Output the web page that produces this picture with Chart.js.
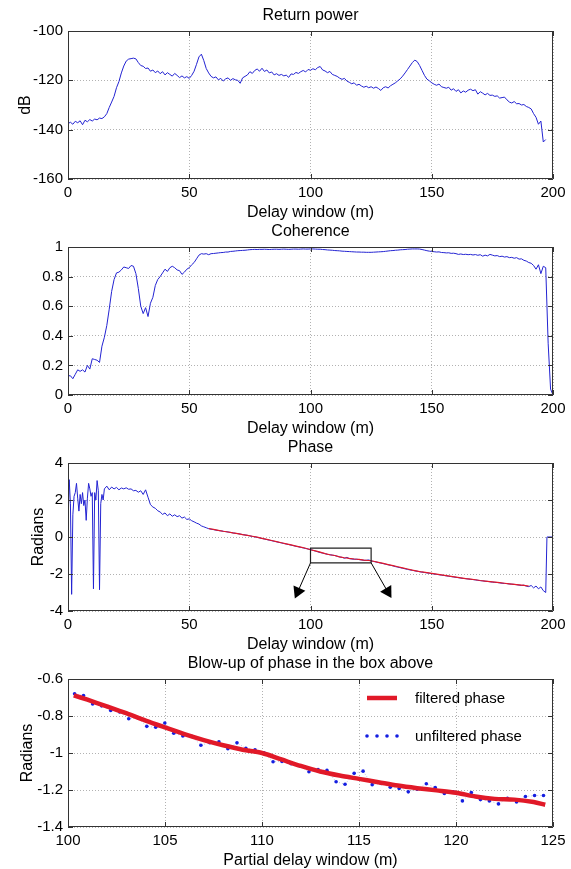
<!DOCTYPE html>
<html>
<head>
<meta charset="utf-8">
<script src="https://cdn.jsdelivr.net/npm/chart.js@4.4.0/dist/chart.umd.min.js"></script>
<style>
  html, body { margin: 0; padding: 0; background: #fff; width: 571px; height: 869px; overflow: hidden; }
  canvas { position: absolute; left: 0; }
</style>
</head>
<body>
<canvas id="powerChart" width="571" height="240" style="top:0px"></canvas>
<canvas id="coherenceChart" width="571" height="240" style="top:216px"></canvas>
<canvas id="phaseChart" width="571" height="240" style="top:432px"></canvas>
<canvas id="blowupChart" width="571" height="240" style="top:648px"></canvas>
<script>
// return power (dB), one value per metre from 0 m
const powerDb = [
  -137.5, -137.0, -137.8, -136.6, -137.2, -136.4, -138.0, -136.2, -136.8, -135.9,
  -136.5, -135.7, -136.0, -135.3, -135.5, -134.8, -133.5, -131.0, -128.8, -126.5,
  -123.0, -120.5, -117.0, -114.2, -112.2, -111.4, -111.2, -111.0, -111.3, -112.8,
  -114.0, -114.3, -115.2, -115.0, -116.3, -115.8, -116.9, -116.2, -117.3, -116.5,
  -117.8, -116.9, -117.6, -118.3, -117.2, -118.0, -118.9, -118.2, -119.0, -118.5,
  -119.2, -118.0, -116.3, -113.5, -110.5, -109.4, -112.0, -115.2, -117.0, -118.4,
  -119.0, -118.6, -119.8, -119.2, -120.3, -119.4, -119.0, -120.0, -119.3, -119.8,
  -120.0, -121.2, -119.0, -118.4, -117.8, -116.5, -117.2, -116.0, -115.4, -116.3,
  -115.1, -116.4, -115.8, -117.0, -116.6, -117.8, -117.3, -118.0, -117.6, -118.2,
  -117.9, -118.8, -117.4, -117.6, -116.8, -117.2, -116.5, -116.0, -116.6, -115.6,
  -115.9, -115.3, -115.7, -114.8, -114.4, -115.8, -116.2, -116.9, -116.4, -117.6,
  -118.0, -118.4, -119.1, -119.6, -119.2, -120.3, -120.8, -121.4, -121.0, -122.0,
  -121.6, -122.3, -122.8, -122.4, -123.0, -122.6, -123.2, -122.7, -123.3, -124.1,
  -123.0, -122.6, -123.1, -122.2, -121.6, -121.0, -120.2, -119.4, -118.3, -117.0,
  -115.6, -114.2, -112.8, -111.8, -112.4, -114.0, -116.0, -118.0, -119.5, -120.2,
  -121.0, -121.6, -122.0, -121.5, -122.6, -122.9, -123.2, -122.8, -124.0, -123.4,
  -124.5, -123.8, -125.1, -124.3, -124.8, -124.0, -123.6, -124.2, -123.8, -125.6,
  -124.6, -125.2, -125.9, -125.3, -126.1, -126.0, -126.5, -126.3, -127.2, -127.0,
  -126.8, -127.9, -128.8, -129.2, -128.6, -129.5, -129.4, -130.0, -129.8, -130.6,
  -131.0, -131.6, -133.5, -135.0, -137.8, -136.5, -145.0, -144.0
];

// coherence, one value per metre from 0 m
const coherence = [
  0.13, 0.13, 0.11, 0.14, 0.17, 0.16, 0.17, 0.155, 0.20, 0.175,
  0.245, 0.24, 0.235, 0.22, 0.33, 0.39, 0.47, 0.58, 0.70, 0.78,
  0.825, 0.83, 0.845, 0.865, 0.86, 0.855, 0.875, 0.87, 0.82, 0.72,
  0.60, 0.55, 0.59, 0.53, 0.62, 0.66, 0.74, 0.78, 0.80, 0.825,
  0.85, 0.835, 0.86, 0.87, 0.86, 0.845, 0.84, 0.815, 0.83, 0.85,
  0.86, 0.88, 0.895, 0.92, 0.945, 0.955, 0.952, 0.955, 0.948, 0.955,
  0.956, 0.958, 0.96, 0.962, 0.963, 0.966, 0.966, 0.97, 0.971, 0.973,
  0.975, 0.976, 0.977, 0.978, 0.98, 0.982, 0.983, 0.984, 0.983, 0.984,
  0.984, 0.985, 0.984, 0.983, 0.984, 0.985, 0.985, 0.984, 0.985, 0.986,
  0.985, 0.984, 0.985, 0.986, 0.986, 0.985, 0.986, 0.987, 0.986, 0.986,
  0.987, 0.987, 0.986, 0.985, 0.985, 0.983, 0.982, 0.98, 0.979, 0.978,
  0.976, 0.975, 0.974, 0.972, 0.971, 0.97, 0.969, 0.968, 0.967, 0.966,
  0.966, 0.965, 0.965, 0.964, 0.964, 0.964, 0.965, 0.966, 0.967, 0.968,
  0.969, 0.971, 0.973, 0.975, 0.976, 0.978, 0.979, 0.981, 0.982, 0.983,
  0.985, 0.986, 0.987, 0.987, 0.987, 0.986, 0.983, 0.979, 0.975, 0.972,
  0.97, 0.968, 0.966, 0.967, 0.963, 0.962, 0.96, 0.961, 0.957, 0.958,
  0.955, 0.95, 0.953, 0.949, 0.951, 0.948, 0.95, 0.946, 0.949, 0.944,
  0.948, 0.938, 0.945, 0.94, 0.95, 0.945, 0.94, 0.942, 0.935, 0.938,
  0.932, 0.935, 0.928, 0.93, 0.924, 0.928, 0.918, 0.92, 0.91, 0.905,
  0.895, 0.89, 0.875, 0.85, 0.88, 0.82, 0.87, 0.86, 0.35, 0.04,
  0.0
];

// phase (radians): noisy start sampled every half metre, then every metre
const phaseEarlyX = [0, 0.5, 1, 1.5, 2, 2.5, 3, 3.5, 4, 4.5, 5, 5.5, 6, 6.5, 7, 7.5,
  8, 8.5, 9, 9.5, 10, 10.5, 11, 11.5, 12, 12.5, 13, 13.5, 14, 14.5, 15];
const phaseEarly = [0.5, 3.1, 1.8, -3.1, 1.2, 2.2, 2.4, 2.9, 2.1, 1.4, 2.3, 1.8, 2.4, 1.7, 2.0, 0.9,
  2.1, 2.9, 2.6, 2.2, 2.4, -2.8, 2.4, 2.0, 3.05, 2.5, -2.85, 1.8, 2.3, 2.0, 2.6];
const phaseLateStart = 16;
const phaseLate = [
  2.75, 2.55, 2.7, 2.6, 2.68, 2.55, 2.65, 2.6, 2.66, 2.58,
  2.6, 2.5, 2.52, 2.42, 2.5, 2.3, 2.55, 2.15, 1.75, 1.62,
  1.55, 1.42, 1.35, 1.22, 1.3, 1.15, 1.25, 1.12, 1.2, 1.1,
  1.15, 1.02, 1.08, 0.95, 0.98, 0.88, 0.82, 0.75, 0.7, 0.6,
  0.55, 0.5, 0.45, 0.42, 0.4, 0.37, 0.35, 0.33, 0.31, 0.29,
  0.27, 0.25, 0.22, 0.2, 0.18, 0.16, 0.13, 0.11, 0.09, 0.06,
  0.03, 0.01, -0.02, -0.05, -0.08, -0.11, -0.14, -0.17, -0.2, -0.23,
  -0.26, -0.29, -0.32, -0.35, -0.38, -0.41, -0.44, -0.47, -0.5, -0.53,
  -0.56, -0.59, -0.62, -0.65, -0.68, -0.72, -0.76, -0.8, -0.84, -0.87,
  -0.9, -0.94, -0.96, -0.98, -1.0, -1.04, -1.08, -1.1, -1.15, -1.1,
  -1.17, -1.19, -1.2, -1.2, -1.22, -1.24, -1.26, -1.26, -1.24, -1.29,
  -1.32, -1.35, -1.38, -1.41, -1.44, -1.47, -1.5, -1.53, -1.56, -1.6,
  -1.63, -1.66, -1.69, -1.72, -1.75, -1.78, -1.8, -1.83, -1.85, -1.88,
  -1.9, -1.92, -1.94, -1.96, -1.98, -2.0, -2.02, -2.04, -2.06, -2.08,
  -2.1, -2.12, -2.14, -2.16, -2.18, -2.2, -2.22, -2.24, -2.25, -2.27,
  -2.29, -2.3, -2.32, -2.34, -2.36, -2.37, -2.39, -2.4, -2.42, -2.44,
  -2.45, -2.46, -2.48, -2.5, -2.51, -2.52, -2.54, -2.55, -2.56, -2.58,
  -2.6, -2.62, -2.6, -2.66, -2.68, -2.62, -2.75, -2.65, -2.8, -2.7,
  -2.9, -3.0
];
const phaseTailX = [197.5, 200];
const phaseTail = [0, 0];

// filtered phase overlaid in red
const filteredX = [58, 60, 62, 64, 66, 68, 70, 72, 74, 76, 78, 80, 82, 84, 86, 88, 90, 92, 94, 96,
  98, 100, 102, 104, 106, 108, 110, 112, 114, 116, 118, 120, 122, 124, 126, 128, 130, 132, 134, 136,
  138, 140, 142, 144, 146, 148, 150, 152, 154, 156, 158, 160, 162, 164, 166, 168, 170, 172, 174, 176,
  178, 180, 182, 184, 186, 188, 190];
const filteredRad = [0.46, 0.41, 0.36, 0.31, 0.27, 0.22, 0.18, 0.13, 0.09, 0.04, -0.01, -0.07, -0.13, -0.19, -0.25, -0.31, -0.37, -0.43, -0.49, -0.55,
  -0.61, -0.69, -0.75, -0.82, -0.9, -0.96, -1.0, -1.07, -1.12, -1.16, -1.19, -1.21, -1.25, -1.27, -1.31, -1.37, -1.43, -1.49, -1.55, -1.61,
  -1.67, -1.73, -1.79, -1.84, -1.89, -1.93, -1.97, -2.01, -2.05, -2.09, -2.13, -2.17, -2.21, -2.25, -2.28, -2.31, -2.35, -2.38, -2.41, -2.44,
  -2.47, -2.5, -2.53, -2.56, -2.59, -2.62, -2.65];

// the zoom box and its arrows, in data units
const boxX = [100, 125, 125, 100, 100];
const boxY = [-0.6, -0.6, -1.4, -1.4, -0.6];
const arrowLeftX = [100, 94.8];
const arrowLeftY = [-1.4, -2.95];
const arrowRightX = [125, 131.8];
const arrowRightY = [-1.4, -2.95];

// blow-up
const blowFiltX = [100.3, 101, 102, 103, 104, 105, 106, 107, 108, 109, 110, 111, 112, 113, 114, 115,
  116, 117, 118, 119, 120, 121, 122, 123, 124, 124.6];
const blowFilt = [-0.688, -0.712, -0.748, -0.785, -0.825, -0.862, -0.898, -0.93, -0.958, -0.982, -1.0, -1.035, -1.07, -1.1, -1.122, -1.14,
  -1.158, -1.176, -1.19, -1.202, -1.215, -1.235, -1.248, -1.252, -1.265, -1.28];
const blowRawX = [100.34, 100.8, 101.27, 101.73, 102.2, 102.66, 103.13, 103.6, 104.06, 104.52, 104.99, 105.45, 105.92, 106.38,
  106.85, 107.31, 107.78, 108.24, 108.71, 109.17, 109.64, 110.1, 110.57, 111.03, 111.5, 111.96, 112.42, 112.89, 113.35,
  113.82, 114.28, 114.75, 115.21, 115.68, 116.14, 116.61, 117.07, 117.54, 118.0, 118.47, 118.93, 119.4, 119.86, 120.33,
  120.79, 121.26, 121.72, 122.19, 122.65, 123.12, 123.58, 124.05, 124.51];
const blowRaw = [-0.68, -0.689, -0.735, -0.745, -0.77, -0.778, -0.815, -0.81, -0.856, -0.861, -0.838, -0.893, -0.908, -0.91,
  -0.958, -0.944, -0.94, -0.977, -0.945, -0.975, -0.983, -0.999, -1.047, -1.046, -1.058, -1.07, -1.101, -1.09, -1.094,
  -1.155, -1.169, -1.11, -1.098, -1.171, -1.165, -1.185, -1.192, -1.21, -1.196, -1.166, -1.187, -1.219, -1.21, -1.259,
  -1.214, -1.252, -1.259, -1.275, -1.245, -1.265, -1.235, -1.23, -1.23];

// tick labels
const delayTicks = [0, 50, 100, 150, 200];
const partialTicks = [100, 105, 110, 115, 120, 125];
const powerTicks = [-160, -140, -120, -100];
const coherenceTicks = [0, 0.2, 0.4, 0.6, 0.8, 1];
const phaseTicks = [-4, -2, 0, 2, 4];
const blowTicks = [-1.4, -1.2, -1, -0.8, -0.6];

const BLUE = 'rgb(35,35,210)';
const RED = 'rgb(225,25,40)';

function pairs(xs, ys) {
  return ys.map((v, i) => ({ x: xs[i], y: v }));
}
function stepped(start, ys) {
  return ys.map((v, i) => ({ x: start + i, y: v }));
}

Chart.defaults.font.family = "'Liberation Sans', Arial, Helvetica, sans-serif";
Chart.defaults.color = '#000';

// matlab style box with inward ticks
const boxPlugin = {
  id: 'matBox',
  afterDraw(chart) {
    const { ctx, chartArea: a, scales } = chart;
    ctx.save();
    ctx.strokeStyle = '#333';
    ctx.lineWidth = 1;
    ctx.beginPath();
    ctx.rect(Math.round(a.left) + 0.5, Math.round(a.top) + 0.5, Math.round(a.width) - 1, Math.round(a.height) - 1);
    scales.x.ticks.forEach(t => {
      const px = Math.round(scales.x.getPixelForValue(t.value)) + 0.5;
      ctx.moveTo(px, a.bottom); ctx.lineTo(px, a.bottom - 5);
      ctx.moveTo(px, a.top); ctx.lineTo(px, a.top + 5);
    });
    scales.y.ticks.forEach(t => {
      const py = Math.round(scales.y.getPixelForValue(t.value)) + 0.5;
      ctx.moveTo(a.left, py); ctx.lineTo(a.left + 5, py);
      ctx.moveTo(a.right, py); ctx.lineTo(a.right - 5, py);
    });
    ctx.stroke();
    ctx.restore();
  }
};

// legend drawn inside the axes (top right)
const insideLegend = {
  id: 'insideLegend',
  afterDraw(chart, args, opts) {
    if (!opts.show) return;
    const { ctx, chartArea: a } = chart;
    const x0 = a.right - 186;
    ctx.save();
    ctx.font = "15px 'Liberation Sans', Arial, sans-serif";
    ctx.textBaseline = 'middle';
    chart.data.datasets.forEach((ds, i) => {
      const y = a.top + 19 + i * 38;
      if (ds.pointRadius > 0) {
        ctx.fillStyle = ds.pointBackgroundColor;
        for (let k = 0; k < 4; k++) {
          ctx.beginPath();
          ctx.arc(x0 + k * 10, y, ds.pointRadius, 0, Math.PI * 2);
          ctx.fill();
        }
      } else {
        ctx.strokeStyle = ds.borderColor;
        ctx.lineWidth = ds.borderWidth;
        ctx.beginPath();
        ctx.moveTo(x0, y); ctx.lineTo(x0 + 30, y);
        ctx.stroke();
      }
      ctx.fillStyle = '#000';
      ctx.fillText(ds.label, x0 + 48, y + 1);
    });
    ctx.restore();
  }
};

Chart.register(boxPlugin, insideLegend);

function makeOptions(cfg) {
  return {
    responsive: false,
    animation: false,
    layout: { padding: { left: 0, right: 18, top: 0, bottom: 0 } },
    plugins: {
      legend: { display: false },
      tooltip: { enabled: false },
      title: {
        display: true, text: cfg.title, fullSize: false, color: '#000',
        font: { size: 16, weight: 'normal' }, padding: { top: 6, bottom: 5.8 }
      },
      insideLegend: { show: !!cfg.legend }
    },
    scales: {
      x: {
        type: 'linear',
        min: cfg.xTicks[0],
        max: cfg.xTicks[cfg.xTicks.length - 1],
        afterBuildTicks: s => { s.ticks = cfg.xTicks.map(v => ({ value: v })); },
        afterFit: s => { s.height = 61; },
        ticks: { font: { size: 15 }, padding: 5, maxRotation: 0, autoSkip: false, callback: v => String(v) },
        grid: { color: 'rgba(0,0,0,0.3)', drawTicks: false },
        border: { display: false, dash: [1, 2] },
        title: { display: true, text: cfg.xTitle, font: { size: 16 }, padding: { top: 0, bottom: 17.5 } }
      },
      y: {
        min: cfg.yTicks[0],
        max: cfg.yTicks[cfg.yTicks.length - 1],
        afterBuildTicks: s => { s.ticks = cfg.yTicks.map(v => ({ value: v })); },
        afterFit: s => { s.width = 68; },
        ticks: { font: { size: 15 }, padding: 5, autoSkip: false, callback: v => String(v) },
        grid: { color: 'rgba(0,0,0,0.3)', drawTicks: false },
        border: { display: false, dash: [1, 2] },
        title: {
          display: !!cfg.yTitle, text: cfg.yTitle || '', font: { size: 16 },
          padding: { top: cfg.yTitlePad || 0, bottom: 0 }
        }
      }
    }
  };
}

const thinLine = { pointRadius: 0, borderWidth: 1, fill: false, tension: 0 };

new Chart(document.getElementById('powerChart'), {
  type: 'line',
  data: { datasets: [{ ...thinLine, data: stepped(0, powerDb), borderColor: BLUE }] },
  options: makeOptions({ title: 'Return power', xTitle: 'Delay window (m)', yTitle: 'dB', yTitlePad: 15.5,
    xTicks: delayTicks, yTicks: powerTicks })
});

new Chart(document.getElementById('coherenceChart'), {
  type: 'line',
  data: { datasets: [{ ...thinLine, data: stepped(0, coherence), borderColor: BLUE }] },
  options: makeOptions({ title: 'Coherence', xTitle: 'Delay window (m)',
    xTicks: delayTicks, yTicks: coherenceTicks })
});

const phaseData = pairs(phaseEarlyX, phaseEarly)
  .concat(stepped(phaseLateStart, phaseLate))
  .concat(pairs(phaseTailX, phaseTail));

new Chart(document.getElementById('phaseChart'), {
  type: 'line',
  data: {
    datasets: [
      { ...thinLine, data: pairs(boxX, boxY), borderColor: '#222', borderWidth: 1.2, order: 1 },
      { ...thinLine, data: pairs(arrowLeftX, arrowLeftY), borderColor: '#000', order: 1,
        pointStyle: 'triangle', pointRadius: [0, 7.5], pointRotation: [0, 204],
        pointBackgroundColor: '#000', pointBorderColor: '#000', pointBorderWidth: 0 },
      { ...thinLine, data: pairs(arrowRightX, arrowRightY), borderColor: '#000', order: 1,
        pointStyle: 'triangle', pointRadius: [0, 7.5], pointRotation: [0, 149],
        pointBackgroundColor: '#000', pointBorderColor: '#000', pointBorderWidth: 0 },
      { ...thinLine, data: pairs(filteredX, filteredRad), borderColor: RED, borderWidth: 1.2, order: 2 },
      { ...thinLine, data: phaseData, borderColor: BLUE, order: 3 }
    ]
  },
  options: makeOptions({ title: 'Phase', xTitle: 'Delay window (m)', yTitle: 'Radians', yTitlePad: 28.5,
    xTicks: delayTicks, yTicks: phaseTicks })
});

new Chart(document.getElementById('blowupChart'), {
  type: 'line',
  data: {
    datasets: [
      { label: 'filtered phase', data: pairs(blowFiltX, blowFilt), borderColor: RED, borderWidth: 4.5,
        pointRadius: 0, tension: 0.3, order: 1 },
      { label: 'unfiltered phase', data: pairs(blowRawX, blowRaw), borderColor: 'rgba(110,120,200,0.6)',
        borderWidth: 0.8, borderDash: [1, 2], pointRadius: 1.8, pointBackgroundColor: 'rgb(20,30,225)',
        pointBorderWidth: 0, order: 2 }
    ]
  },
  options: makeOptions({ title: 'Blow-up of phase in the box above', xTitle: 'Partial delay window (m)',
    yTitle: 'Radians', yTitlePad: 18, xTicks: partialTicks, yTicks: blowTicks, legend: true })
});
</script>
</body>
</html>
